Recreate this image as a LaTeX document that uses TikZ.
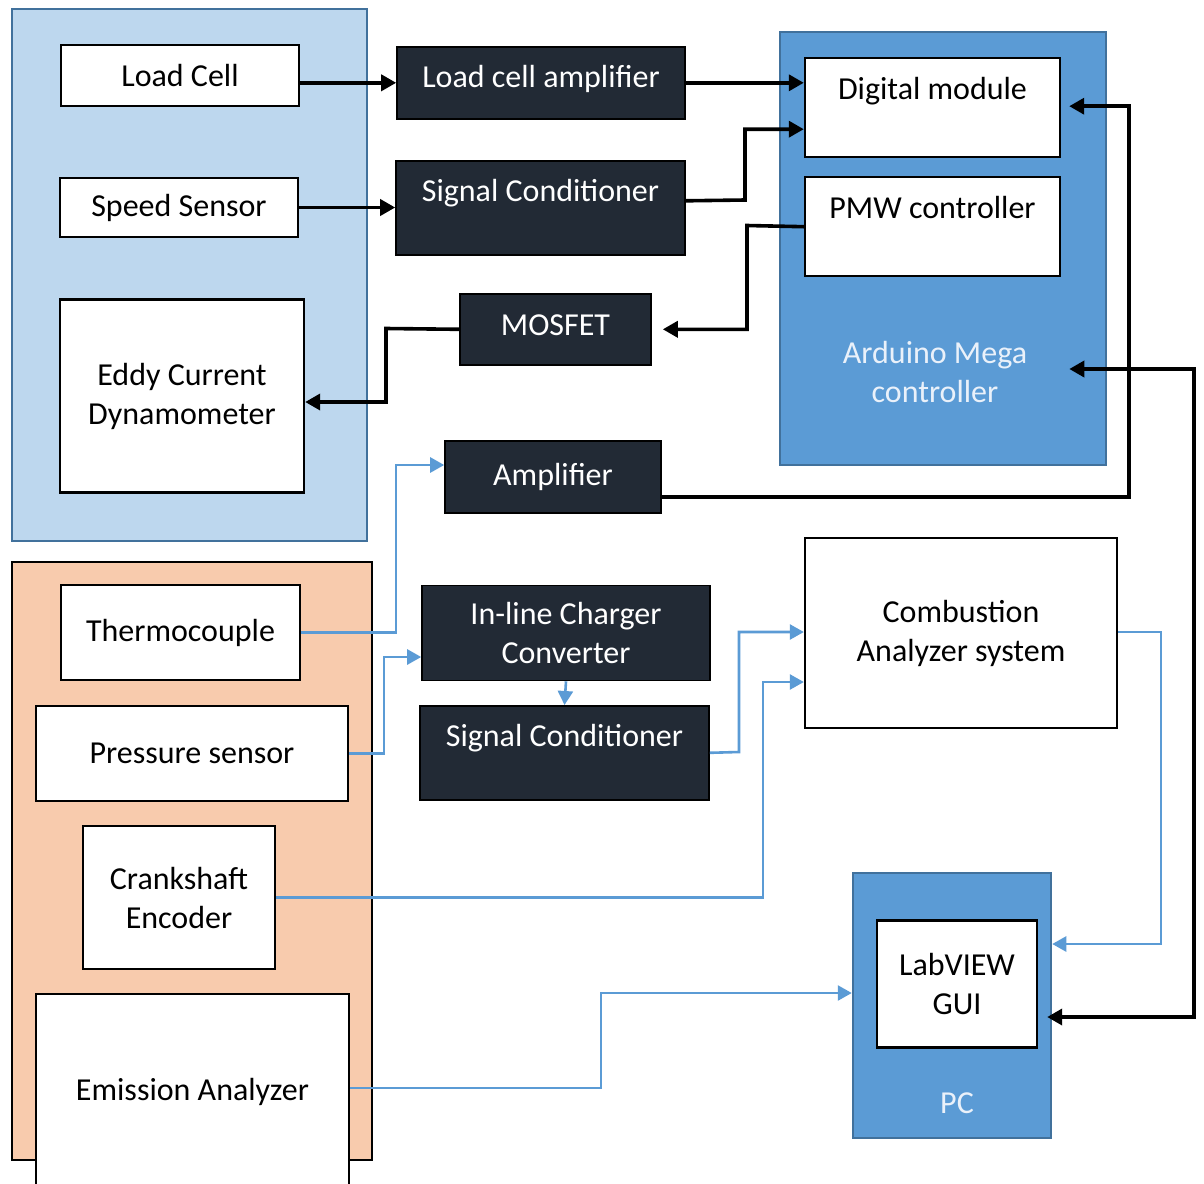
\documentclass[tikz,border=0pt]{standalone}
\usepackage{fontspec}
\setmainfont{Carlito}
\usetikzlibrary{arrows.meta}
\definecolor{paleblue}{HTML}{BDD7EE}
\definecolor{midblue}{HTML}{5B9BD5}
\definecolor{edgeblue}{HTML}{41719C}
\definecolor{peach}{HTML}{F8CBAD}
\definecolor{navyfill}{HTML}{222A35}
\definecolor{softwhite}{HTML}{EAF1FA}
\newcommand{\diagfont}{\fontsize{32}{39}\selectfont}

\tikzset{
  grpbox/.style={line width=2pt, inner sep=0pt},
  whitebox/.style={draw=black, line width=2.4pt, fill=white, align=center, inner sep=0pt, font=\diagfont},
  darkbox/.style={draw=black, line width=1.6pt, fill=navyfill, text=white, align=center, inner sep=0pt, font=\diagfont},
  paneltext/.style={text=softwhite, align=center, inner sep=0pt, font=\diagfont},
  blk/.style={line width=3.6pt, -{Triangle[length=15pt,width=16pt]}},
  blkboth/.style={line width=3.6pt, {Triangle[length=15pt,width=16pt]}-{Triangle[length=15pt,width=16pt]}},
  blu/.style={draw=midblue, line width=2.6pt, -{Triangle[length=14pt,width=15pt]}}
}

\begin{document}
\begin{tikzpicture}[x=1pt, y=-1pt]
  \useasboundingbox (0,0) rectangle (1204,1183);
  \clip (0,0) rectangle (1204,1183);
  \fill[white] (0,0) rectangle (1204,1183);

  % Groups and panels
  \node[grpbox, fill=paleblue, draw=edgeblue, minimum width=355pt, minimum height=532pt] (sensgrp) at (189.5,275) {};
  \node[grpbox, fill=peach, draw=black, minimum width=360pt, minimum height=598pt] (measgrp) at (192,861) {};
  \node[grpbox, fill=midblue, draw=edgeblue, line width=2.5pt, minimum width=326pt, minimum height=433pt] (ard) at (943,248.5) {};
  \node[grpbox, fill=midblue, draw=edgeblue, line width=2.5pt, minimum width=198pt, minimum height=265pt] (pc) at (952,1005.5) {};
  \node[paneltext] (ardtext) at (935,372) {Arduino Mega\\controller};
  \node[paneltext] (pctext) at (957,1103) {PC};

  % Engine side boxes
  \node[whitebox, minimum width=238pt, minimum height=61pt] (lc) at (180,75.5) {Load Cell};
  \node[whitebox, minimum width=238pt, minimum height=59pt] (ss) at (179,207.5) {Speed Sensor};
  \node[whitebox, minimum width=244pt, minimum height=193pt] (eddy) at (182,396) {Eddy Current\\Dynamometer};
  \node[whitebox, minimum width=239pt, minimum height=95pt] (tc) at (180.5,632.5) {Thermocouple};
  \node[whitebox, minimum width=312pt, minimum height=95pt] (ps) at (192,753.5) {Pressure sensor};
  \node[whitebox, minimum width=192pt, minimum height=143pt] (ce) at (179,897.5) {Crankshaft\\Encoder};
  \node[whitebox, minimum width=313pt, minimum height=196pt] (ea) at (192.5,1092) {Emission Analyzer};

  % Signal path boxes
  \node[darkbox, anchor=north, minimum width=288pt, text height=41pt, text depth=31pt] (lca) at (541,46) {Load cell amplifier};
  \node[darkbox, anchor=north, minimum width=289pt, text height=41pt, text depth=53pt] (sc1) at (540.5,160) {Signal Conditioner};
  \node[darkbox, anchor=north, minimum width=191pt, text height=42pt, text depth=29pt] (mos) at (555.5,293) {MOSFET};
  \node[darkbox, minimum width=216pt, minimum height=72pt] (amp) at (553,477) {Amplifier};
  \node[darkbox, minimum width=288pt, minimum height=95pt] (inl) at (566,633) {In-line Charger\\Converter};
  \node[darkbox, anchor=north, minimum width=289pt, text height=41pt, text depth=53pt] (sc2) at (564.5,705) {Signal Conditioner};

  % Controller and PC boxes
  \node[whitebox, anchor=north, minimum width=255pt, text height=41pt, text depth=58pt] (dm) at (932.5,57) {Digital module};
  \node[whitebox, anchor=north, minimum width=255pt, text height=41pt, text depth=58pt] (pmw) at (932.5,176) {PMW controller};
  \node[whitebox, minimum width=312pt, minimum height=190pt] (cas) at (961,633) {Combustion\\Analyzer system};
  \node[whitebox, minimum width=160pt, minimum height=127pt] (lv) at (957,984) {LabVIEW\\GUI};

  % Black connectors
  \draw[blk] (lc.east |- lca.west) -- (lca.west);
  \draw[blk] (ss.east) -- (ss.east -| sc1.west);
  \draw[blk] (lca.east) -- (lca.east -| dm.west);
  \draw[blk] ([yshift=7pt]sc1.east) -- (745,200) |- ([yshift=-21.5pt]dm.west);
  \draw[blk] (pmw.west) -- (747,225.5) |- ([xshift=11pt]mos.east);
  \draw[blk] (mos.west) -- (386,328.5) |- ([yshift=-6pt]eddy.east);
  \draw[blk] ([yshift=-20pt]amp.east) -- (1129,497) |- ([xshift=8pt,yshift=1.5pt]dm.east);
  \draw[blkboth] ([xshift=42pt,yshift=3pt]ardtext.east) -- (1194,369) |- ([xshift=9pt,yshift=-33pt]lv.east);

  % Blue connectors
  \draw[blu] (tc.east) -- (396,632.5) |- ([yshift=12pt]amp.west);
  \draw[blu] (ps.east) -- (384,753.5) |- ([yshift=-24pt]inl.west);
  \draw[blu] (inl.south) -- (sc2.north);
  \draw[blu] (sc2.east) -- (739,752) |- ([yshift=1pt]cas.west);
  \draw[blu] (ce.east) -- (763,897.5) |- ([yshift=-49pt]cas.west);
  \draw[blu] ([yshift=4pt]ea.east) -- (601,1088) |- ([yshift=12.5pt]pc.west);
  \draw[blu] ([yshift=1pt]cas.east) -- (1161,632) |- ([yshift=61.5pt]pc.east);
\end{tikzpicture}
\end{document}
